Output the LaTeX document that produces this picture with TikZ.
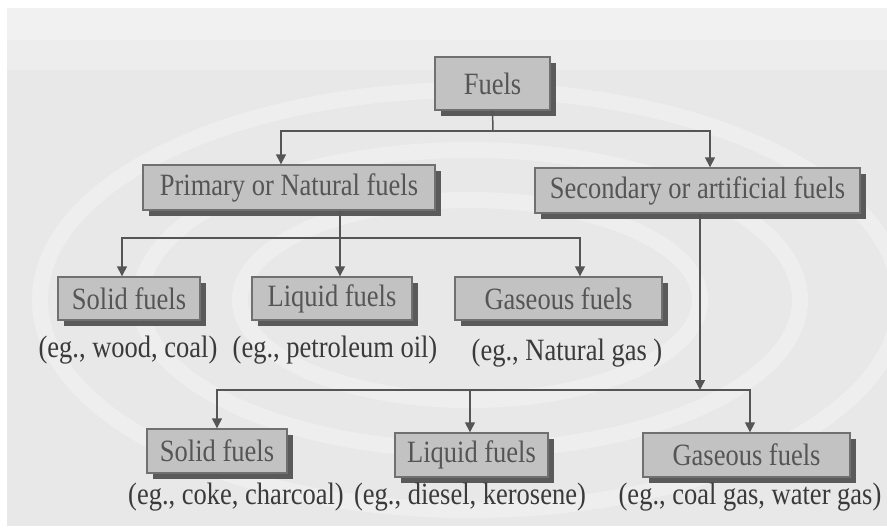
\documentclass[tikz,border=0pt]{standalone}
\usepackage{fontspec}
\usepackage{graphicx}
\setmainfont{Liberation Serif}
\usetikzlibrary{arrows.meta,shadows}
\definecolor{bgc}{HTML}{E8E8E8}
\definecolor{boxfill}{HTML}{C2C2C2}
\definecolor{boxline}{HTML}{707070}
\definecolor{shadowc}{HTML}{5A5A5A}
\definecolor{txtc}{HTML}{555555}
\definecolor{lblc}{HTML}{3A3A3A}
\definecolor{linec}{HTML}{555555}
\newcommand{\tallt}[1]{\scalebox{1}[1.17]{#1}}
\tikzset{
  fbox/.style={draw=boxline, line width=1.4pt, fill=boxfill, text=txtc,
    inner sep=0pt, font=\fontsize{26.5}{30}\selectfont,
    drop shadow={shadow xshift=6pt, shadow yshift=-6pt, opacity=1, fill=shadowc}},
  lbl/.style={text=lblc, inner sep=0pt, font=\fontsize{26.5}{30}\selectfont},
  conn/.style={draw=linec, line width=1.5pt},
  arr/.style={conn, -{Triangle[length=10pt,width=10pt]}}
}
\begin{document}
\begin{tikzpicture}[x=1pt,y=-1pt]
\fill[white] (0,0) rectangle (887,532);
\fill[bgc] (7,8) rectangle (887,526);
\useasboundingbox (0,0) rectangle (887,532);
% faint ripples
\begin{scope}[white, opacity=0.3, line width=16pt]
  \draw (470,300) ellipse (330 and 150);
  \draw (470,300) ellipse (230 and 100);
  \draw (470,300) ellipse (430 and 210);
\end{scope}
\begin{scope}[white, opacity=0.25]
  \fill (7,8) rectangle (887,70);
  \fill (7,8) rectangle (887,40);
\end{scope}

\node[fbox, minimum width=115pt, minimum height=53pt] (fuels) at (492.5,83.5) {\tallt{Fuels}};
\node[fbox, minimum width=292pt, minimum height=45pt] (prim) at (289,187.5) {\tallt{Primary or Natural fuels}};
\node[fbox, minimum width=325pt, minimum height=45pt] (sec) at (697.5,190.5) {\tallt{Secondary or artificial fuels}};

\node[fbox, minimum width=142pt, minimum height=43pt] (ps) at (129,298.5) {\tallt{Solid fuels}};
\node[fbox, minimum width=160pt, minimum height=43pt] (pl) at (332,298.5) {\tallt{Liquid fuels}};
\node[fbox, minimum width=207pt, minimum height=43pt] (pg) at (558.5,298.5) {\tallt{Gaseous fuels}};

\node[lbl] (psl) at (128,350) {\tallt{(eg., wood, coal)}};
\node[lbl] (pll) at (335,350) {\tallt{(eg., petroleum oil)}};
\node[lbl] (pgl) at (567,353) {\tallt{(eg., Natural gas )}};

\node[fbox, minimum width=140pt, minimum height=44pt] (ss) at (217,451) {\tallt{Solid fuels}};
\node[fbox, minimum width=153pt, minimum height=44pt] (sl) at (471.5,455) {\tallt{Liquid fuels}};
\node[fbox, minimum width=207pt, minimum height=44pt] (sg) at (746.5,455) {\tallt{Gaseous fuels}};

\node[lbl] (ssl) at (236,497) {\tallt{(eg., coke, charcoal)}};
\node[lbl] (sll) at (470,497) {\tallt{(eg., diesel, kerosene)}};
\node[lbl] (sgl) at (750,497) {\tallt{(eg., coal gas, water gas)}};

\coordinate (j1) at (493,131);
\coordinate (j2) at (340,238);
\coordinate (j3) at (700,390);

\draw[conn] (fuels.south) -- (j1);
\draw[arr] (j1) -| ([xshift=-8pt]prim.north);
\draw[arr] (j1) -| ([xshift=12.5pt]sec.north);

\draw[conn] ([xshift=51pt]prim.south) -- (j2);
\draw[arr] (j2) -| ([xshift=-7pt]ps.north);
\draw[arr] (j2) -- ([xshift=8pt]pl.north);
\draw[arr] (j2) -| ([xshift=21.5pt]pg.north);

\draw[arr] ([xshift=2.5pt]sec.south) -- (j3);
\draw[arr] (j3) -| (ss.north);
\draw[arr] (j3) -| ([xshift=-1.5pt]sl.north);
\draw[arr] (j3) -| ([xshift=3.5pt]sg.north);
\end{tikzpicture}
\end{document}
